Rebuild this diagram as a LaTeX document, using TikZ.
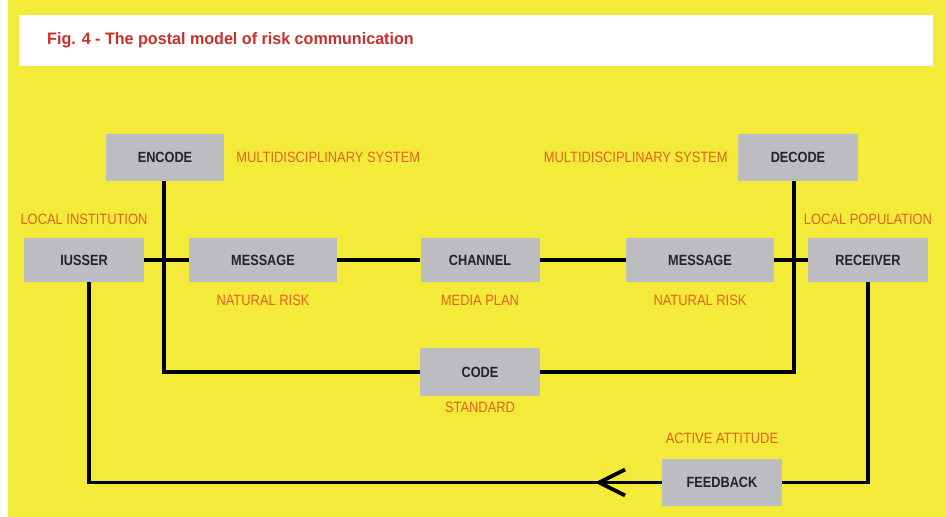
\documentclass[tikz,border=0pt]{standalone}
\usepackage{fontspec}
\setmainfont{Liberation Sans}
\usepackage{tikz}
\usetikzlibrary{arrows.meta,positioning,decorations.markings}
\usepackage{xcolor}
\definecolor{postyellow}{RGB}{244,234,58}
\definecolor{postgray}{RGB}{188,189,192}
\definecolor{postred}{RGB}{200,48,44}
\definecolor{postorange}{RGB}{228,98,32}
\definecolor{postink}{RGB}{35,35,40}
% squeezed caps, the labels are set in a narrow face
\newcommand{\narrowcaps}[1]{\scalebox{0.86}[1]{#1}}

\begin{document}
\begin{tikzpicture}[x=1pt,y=-1pt,
  box/.style={fill=postgray,draw=none,minimum height=44pt,inner sep=0pt,
    text=postink,font=\fontsize{14.8}{16}\selectfont\bfseries},
  tag/.style={text=postorange,inner sep=0pt,font=\fontsize{15}{17}\selectfont},
  wire/.style={line width=3.2pt,draw=black},
  backarrow/.style={postaction={decorate},decoration={markings,
    mark=at position 67pt with {\arrow{Straight Barb[length=26pt,width=26pt,line width=3.8pt]}}}}]
  % frame and title bar
  \fill[white] (0,0) rectangle (946,517);
  \fill[postyellow] (8,0) rectangle (946,517);
  \fill[white] (19,15) rectangle (933,66);
  \node[anchor=west,inner sep=0pt,text=postred,font=\fontsize{16.6}{18}\selectfont\bfseries]
    (title) at (47,40) {\scalebox{0.97}[1]{Fig. 4 - The postal model of risk communication}};

  % boxes
  \node[box,minimum width=118pt,minimum height=47pt] (encode) at (165,157.5) {\narrowcaps{ENCODE}};
  \node[box,minimum width=120pt,minimum height=47pt] (decode) at (798,157.5) {\narrowcaps{DECODE}};
  \node[box,minimum width=120pt] (iusser) at (84,260) {\narrowcaps{IUSSER}};
  \node[box,minimum width=148pt] (msgA) at (263,260) {\narrowcaps{MESSAGE}};
  \node[box,minimum width=119pt] (channel) at (480,260) {\narrowcaps{CHANNEL}};
  \node[box,minimum width=148pt] (msgB) at (700,260) {\narrowcaps{MESSAGE}};
  \node[box,minimum width=120pt] (receiver) at (868,260) {\narrowcaps{RECEIVER}};
  \node[box,minimum width=120pt,minimum height=48pt] (code) at (480,372) {\narrowcaps{CODE}};
  \node[box,minimum width=120pt,minimum height=47pt] (feedback) at (722,482.5) {\narrowcaps{FEEDBACK}};

  % labels
  \node[tag,right=12pt of encode] (sysA) {\narrowcaps{MULTIDISCIPLINARY SYSTEM}};
  \node[tag,left=10pt of decode] (sysB) {\narrowcaps{MULTIDISCIPLINARY SYSTEM}};
  \node[tag,above=13pt of iusser] (instit) {\narrowcaps{LOCAL INSTITUTION}};
  \node[tag,above=13pt of receiver] (popul) {\narrowcaps{LOCAL POPULATION}};
  \node[tag,below=13pt of msgA] (riskA) {\narrowcaps{NATURAL RISK}};
  \node[tag,below=13pt of channel] (plan) {\narrowcaps{MEDIA PLAN}};
  \node[tag,below=13pt of msgB] (riskB) {\narrowcaps{NATURAL RISK}};
  \node[tag,below=6pt of code] (standard) {\narrowcaps{STANDARD}};
  \node[tag,above=15pt of feedback] (attitude) {\narrowcaps{ACTIVE ATTITUDE}};

  % code loop
  \draw[wire] ([xshift=-1pt]encode.south) |- (code.west);
  \draw[wire] (code.east) -| ([xshift=-4pt]decode.south);

  % main chain
  \draw[wire] (iusser.east) -- (msgA.west);
  \draw[wire] (msgA.east) -- (channel.west);
  \draw[wire] (channel.east) -- (msgB.west);
  \draw[wire] (msgB.east) -- (receiver.west);

  % feedback loop
  \draw[wire] (receiver.south) |- (feedback.east);
  \draw[wire,backarrow] (feedback.west) -| ([xshift=5pt]iusser.south);
\end{tikzpicture}
\end{document}
